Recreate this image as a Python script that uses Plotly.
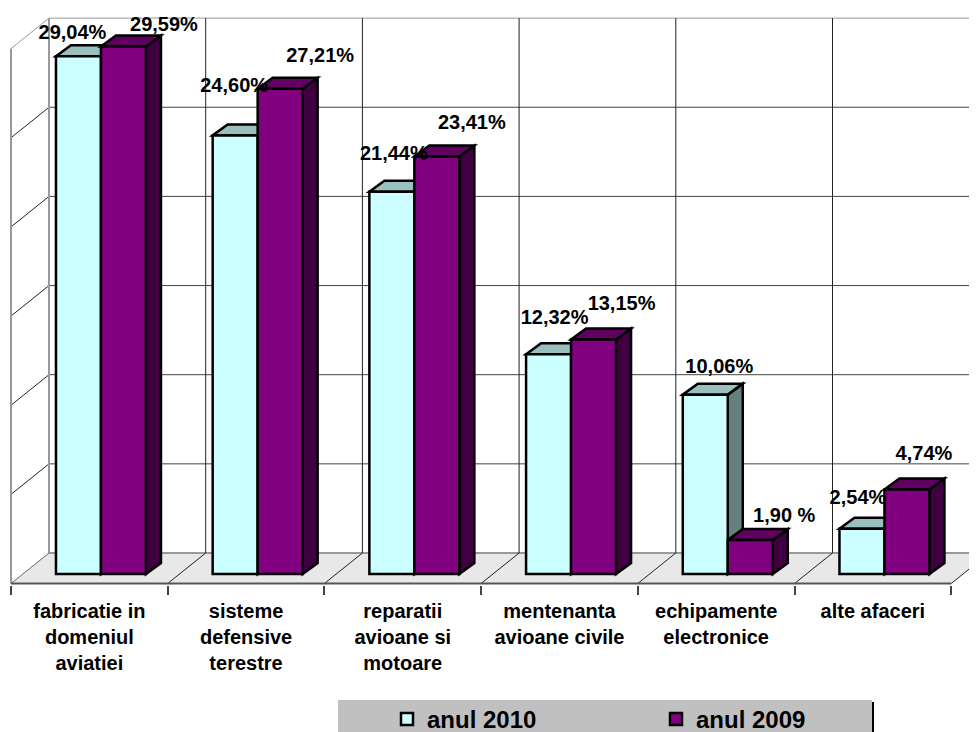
import plotly.graph_objects as go

categories = ["fabricatie in<br>domeniul<br>aviatiei", "sisteme<br>defensive<br>terestre",
              "reparatii<br>avioane si<br>motoare", "mentenanta<br>avioane civile",
              "echipamente<br>electronice", "alte afaceri"]
values_2010 = [29.04, 24.60, 21.44, 12.32, 10.06, 2.54]
values_2009 = [29.59, 27.21, 23.41, 13.15, 1.90, 4.74]
labels_2010 = ["29,04%", "24,60%", "21,44%", "12,32%", "10,06%", "2,54%"]
labels_2009 = ["29,59%", "27,21%", "23,41%", "13,15%", "1,90 %", "4,74%"]
wall_values = [0, 5, 10, 15, 20, 25, 30]

# the page body has an 8 px margin, so the figure is laid out 8 px up and left
PAGE = 8
W, H = 977 - PAGE, 732 - PAGE
PX_X, PX_Y = 156.7, 17.83
X0_PX, BASE_PX, AXIS_PX = 11 - PAGE, 574 - PAGE, 585 - PAGE
BAR_W = 45 / PX_X
OFF_2010, OFF_2009 = -0.213, 0.074
BD_X, BD_Y = 15 / PX_X, 11 / PX_Y          # bar depth
WALL_X, WALL_BACK, WALL_FRONT = 38 / PX_X, 21 / PX_Y, -9.5 / PX_Y
OUTLINE = 2.5

# label offsets from the bar's top centre, pixels
L10_DX = [-6, -1, 2, 6, 14, -4]
L10_DY = [-22, -48, -37, -35, -27, -30]
L09_DX = [40.5, 40, 35, 28, 34, 17]
L09_DY = [-20, -32, -33, -34.5, -23, -34.5]

shapes = []
def poly(pts, fill, line="black", w=OUTLINE):
    d = "M" + "L".join(f"{x},{y}" for x, y in pts) + "Z"
    shapes.append(dict(type="path", path=d, xref="x", yref="y", fillcolor=fill,
                       line=dict(color=line, width=w), layer="below"))
def seg(x0, y0, x1, y1, color, w=1):
    shapes.append(dict(type="line", x0=x0, y0=y0, x1=x1, y1=y1, xref="x", yref="y",
                       line=dict(color=color, width=w), layer="below"))

XMAX = (W - X0_PX) / PX_X
XTOP = XMAX + 1
shapes.append(dict(type="rect", xref="paper", yref="paper", x0=(338 - PAGE) / W, x1=(872 - PAGE) / W,
                   y0=0, y1=(H - (700 - PAGE)) / H, fillcolor="#C0C0C0", line=dict(width=0), layer="below"))
shapes.append(dict(type="line", xref="paper", yref="paper", x0=(873 - PAGE) / W, x1=(873 - PAGE) / W,
                   y0=0, y1=(H - (702 - PAGE)) / H, line=dict(color="black", width=2), layer="below"))

# floor
poly([(0, WALL_FRONT), (WALL_X, WALL_BACK), (6 + WALL_X, WALL_BACK), (6, WALL_FRONT)], "#E8E8E8", "#E8E8E8", 0)

# walls and grid
for v in wall_values:
    back = v + WALL_BACK
    grey = v in (0, 30)
    seg(WALL_X, back, XTOP, back, "#999999" if grey else "#444444", 2 if v == 0 else 1)
    if v > 0:
        seg(0, v + WALL_FRONT, WALL_X, back, "#999999" if grey else "#222222", 1)
for i in range(7):
    x = i + WALL_X
    seg(x, WALL_BACK, x, wall_values[-1] + WALL_BACK, "#999999" if i == 0 else "#222222", 2 if i == 0 else 1)
    seg(i, WALL_FRONT, x, WALL_BACK, "#666666" if i == 0 else "#222222", 1)
seg(0, WALL_FRONT, 0, 30 + WALL_FRONT, "#999999", 2)
seg(0, WALL_FRONT, 6, WALL_FRONT, "#555555", 2)

# depth faces of the bars
def faces(i, off, v, top, side):
    x0 = i + 0.5 + off
    x1 = x0 + BAR_W
    poly([(x1, 0), (x1 + BD_X, BD_Y), (x1 + BD_X, v + BD_Y), (x1, v)], side)
    poly([(x0, v), (x0 + BD_X, v + BD_Y), (x1 + BD_X, v + BD_Y), (x1, v)], top)

for i in range(6):
    faces(i, OFF_2010, values_2010[i], "#99BFBF", "#668080")
    faces(i, OFF_2009, values_2009[i], "#600060", "#400040")

centers = [i + 0.5 for i in range(6)]
fig = go.Figure()
fig.add_bar(name="anul 2010", x=centers, y=values_2010, width=BAR_W, offset=OFF_2010,
            marker=dict(color="#CCFFFF", line=dict(color="black", width=OUTLINE)))
fig.add_bar(name="anul 2009", x=centers, y=values_2009, width=BAR_W, offset=OFF_2009,
            marker=dict(color="#800080", line=dict(color="black", width=OUTLINE)))

lx = [c + OFF_2010 + BAR_W / 2 + d / PX_X for c, d in zip(centers, L10_DX)] + \
     [c + OFF_2009 + BAR_W / 2 + d / PX_X for c, d in zip(centers, L09_DX)]
ly = [v - d / PX_Y for v, d in zip(values_2010, L10_DY)] + \
     [v - d / PX_Y for v, d in zip(values_2009, L09_DY)]
fig.add_scatter(x=lx, y=ly, mode="text", text=labels_2010 + labels_2009, showlegend=False,
                textposition="middle center", cliponaxis=False,
                textfont=dict(family="Liberation Sans", size=20, color="black", weight=700))

font_b = dict(family="Liberation Sans", color="black", weight=700)
fig.update_layout(
    width=W, height=H, margin=dict(l=0, r=0, t=0, b=0, autoexpand=False),
    paper_bgcolor="white", plot_bgcolor="white", barmode="overlay", hovermode=False,
    shapes=shapes,
    showlegend=True,
    legend=dict(orientation="h", x=(387 - PAGE) / W, xanchor="left", y=(H - (697 - PAGE)) / H, yanchor="top",
                bgcolor="rgba(0,0,0,0)", font=dict(size=24, **font_b), traceorder="normal",
                entrywidth=224, entrywidthmode="pixels", itemclick=False, itemdoubleclick=False),
    xaxis=dict(range=[-X0_PX / PX_X, XMAX], domain=[0, 1], showgrid=False, zeroline=False,
               showline=False, tickmode="array", tickvals=centers, ticktext=categories,
               ticks="", tickangle=0, ticklabelstandoff=12,
               tickfont=dict(size=20, **font_b),
               minor=dict(tickmode="array", tickvals=list(range(7)), ticks="outside",
                          ticklen=9, tickwidth=1.5, tickcolor="#444444", showgrid=False)),
    yaxis=dict(range=[(BASE_PX - AXIS_PX) / PX_Y, BASE_PX / PX_Y], domain=[(H - AXIS_PX) / H, 1],
               visible=False),
)
fig.write_html("out.html")
